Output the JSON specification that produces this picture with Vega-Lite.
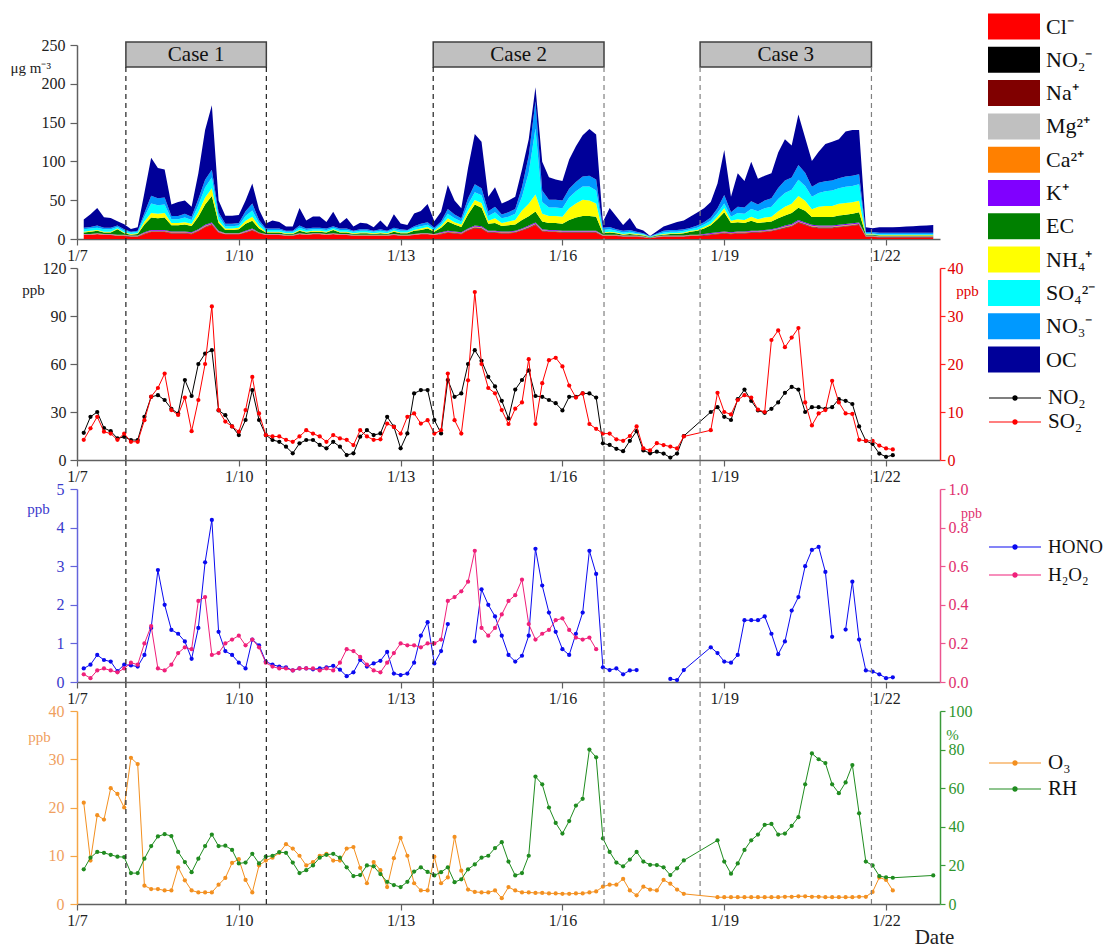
{
"$schema":"https://vega.github.io/schema/vega-lite/v6.json",
"background":"white",
"padding":{"left":10,"top":10,"right":0,"bottom":0},
"bounds":"flush",
"spacing":29,
"config":{"font":"Liberation Serif","view":{"stroke":null},
"axis":{"grid":false,"labelFontSize":16,"titleFontWeight":"normal","labelColor":"#222","titleColor":"#222","domainColor":"#606060","tickColor":"#606060","domainWidth":1.5,"tickWidth":1.2,"labelOverlap":false},
"legend":{"labelFont":"Liberation Serif","labelFontSize":22,"labelColor":"#111","padding":0,"rowPadding":0,"labelOffset":6}},
"resolve":{"scale":{"color":"independent","x":"independent"},"legend":{"color":"independent"}},
"data":{"format":{"parse":{"t":"date:'%m/%d %H'"}},"values":[
{"t":"1/7 03","N":17,"S":4.2,"H":0.35,"P":0.04,"O":21,"R":18},
{"t":"1/7 06","N":27,"S":6.6,"H":0.45,"P":0.02,"O":9,"R":24},
{"t":"1/7 09","N":30,"S":9,"H":0.7,"P":0.06,"O":18.4,"R":27},
{"t":"1/7 12","N":20,"S":5.9,"H":0.57,"P":0.07,"O":17.5,"R":26.5},
{"t":"1/7 15","N":18,"S":5.5,"H":0.53,"P":0.06,"O":24,"R":25.5},
{"t":"1/7 18","N":13.5,"S":4.2,"H":0.28,"P":0.05,"O":22.8,"R":24.5},
{"t":"1/7 21","N":14.5,"S":5.5,"H":0.45,"P":0.07,"O":20,"R":24.3},
{"t":"1/8 00","N":12.5,"S":3.8,"H":0.43,"P":0.1,"O":30.3,"R":16},
{"t":"1/8 03","N":12.5,"S":3.8,"H":0.4,"P":0.09,"O":29,"R":16},
{"t":"1/8 06","N":27,"S":8.3,"H":0.7,"P":0.2,"O":3.8,"R":23.5},
{"t":"1/8 09","N":39.5,"S":13.2,"H":1.4,"P":0.29,"O":3.1,"R":30},
{"t":"1/8 12","N":40.5,"S":15,"H":2.9,"P":0.07,"O":3.1,"R":35},
{"t":"1/8 15","N":37.5,"S":18,"H":2,"P":0.06,"O":2.8,"R":36.2},
{"t":"1/8 18","N":32,"S":10.4,"H":1.35,"P":0.09,"O":2.8,"R":35.2},
{"t":"1/8 21","N":29,"S":9.4,"H":1.25,"P":0.15,"O":7.6,"R":27},
{"t":"1/9 00","N":50,"S":13,"H":1.05,"P":0.18,"O":4.9,"R":21.7},
{"t":"1/9 03","N":40,"S":6,"H":0.6,"P":0.17,"O":2.8,"R":16.5},
{"t":"1/9 06","N":60,"S":12.5,"H":1.4,"P":0.42,"O":2.4,"R":23.5},
{"t":"1/9 09","N":66.5,"S":20,"H":3.1,"P":0.44,"O":2.4,"R":30},
{"t":"1/9 12","N":68.6,"S":32,"H":4.2,"P":0.14,"O":2.4,"R":36},
{"t":"1/9 15","N":31,"S":10.4,"H":1.3,"P":0.15,"O":4,"R":30},
{"t":"1/9 18","N":28,"S":8,"H":0.8,"P":0.2,"O":5.4,"R":30.2},
{"t":"1/9 21","N":21,"S":7,"H":0.7,"P":0.22,"O":8.5,"R":28},
{"t":"1/10 00","N":15.6,"S":5.9,"H":0.5,"P":0.24,"O":9.3,"R":21},
{"t":"1/10 03","N":25,"S":10.4,"H":0.35,"P":0.19,"O":5,"R":21.5},
{"t":"1/10 06","N":43.7,"S":17.3,"H":1.1,"P":0.22,"O":2.4,"R":26},
{"t":"1/10 09","N":25,"S":9.7,"H":0.95,"P":0.18,"O":8,"R":21},
{"t":"1/10 12","N":15.6,"S":5.2,"H":0.53,"P":0.1,"O":9,"R":24.5},
{"t":"1/10 15","N":12.5,"S":4.9,"H":0.45,"P":0.08,"O":9.6,"R":25},
{"t":"1/10 18","N":11.4,"S":4.9,"H":0.4,"P":0.07,"O":10.6,"R":26.9},
{"t":"1/10 21","N":8.3,"S":4.2,"H":0.38,"P":0.07,"O":12.4,"R":26.5},
{"t":"1/11 00","N":4.2,"S":3.8,"H":0.3,"P":0.06,"O":11.5,"R":21.5},
{"t":"1/11 03","N":10.4,"S":4.9,"H":0.35,"P":0.07,"O":10,"R":16},
{"t":"1/11 06","N":12.5,"S":6.2,"H":0.35,"P":0.07,"O":8,"R":17.5},
{"t":"1/11 09","N":12.5,"S":5.5,"H":0.33,"P":0.07,"O":8.7,"R":20},
{"t":"1/11 12","N":9.4,"S":4.9,"H":0.35,"P":0.06,"O":10,"R":24},
{"t":"1/11 15","N":7.3,"S":3.8,"H":0.38,"P":0.07,"O":10.4,"R":25.5},
{"t":"1/11 18","N":11.4,"S":5.2,"H":0.42,"P":0.06,"O":9,"R":26},
{"t":"1/11 21","N":8.3,"S":4.5,"H":0.32,"P":0.1,"O":9,"R":24},
{"t":"1/12 00","N":3.1,"S":4.2,"H":0.15,"P":0.17,"O":11.5,"R":19},
{"t":"1/12 03","N":4.2,"S":3.1,"H":0.25,"P":0.16,"O":11.8,"R":14.5},
{"t":"1/12 06","N":14.6,"S":6.2,"H":0.57,"P":0.13,"O":7.5,"R":15},
{"t":"1/12 09","N":18.7,"S":4.9,"H":0.4,"P":0.09,"O":4.3,"R":20},
{"t":"1/12 12","N":15.6,"S":4.2,"H":0.48,"P":0.06,"O":8.7,"R":19.5},
{"t":"1/12 15","N":16.6,"S":4.3,"H":0.55,"P":0.05,"O":7,"R":15.5},
{"t":"1/12 18","N":27,"S":7.6,"H":0.78,"P":0.1,"O":3.5,"R":11.5},
{"t":"1/12 21","N":20.8,"S":6.9,"H":0.22,"P":0.15,"O":9.5,"R":9.8},
{"t":"1/13 00","N":7.3,"S":5.5,"H":0.18,"P":0.2,"O":13.7,"R":8.8},
{"t":"1/13 03","N":16.6,"S":9,"H":0.22,"P":0.19,"O":10,"R":11.5},
{"t":"1/13 06","N":41.6,"S":9.7,"H":0.5,"P":0.19,"O":4.3,"R":16.8},
{"t":"1/13 09","N":43.7,"S":7.6,"H":1.2,"P":0.18,"O":2.8,"R":19},
{"t":"1/13 12","N":43.7,"S":8.3,"H":1.55,"P":0.2,"O":2.8,"R":16.6},
{"t":"1/13 15","N":25,"S":5.5,"H":0.48,"P":0.2,"O":9.8,"R":14.8},
{"t":"1/13 18","N":16.6,"S":6.2,"H":0.8,"P":0.22,"O":4.3,"R":16.5},
{"t":"1/13 21","N":50,"S":18,"H":1.5,"P":0.42,"O":5.5,"R":19},
{"t":"1/14 00","N":39.5,"S":8.3,"H":null,"P":0.44,"O":13.9,"R":11.3},
{"t":"1/14 03","N":41.6,"S":5.5,"H":null,"P":0.47,"O":6.9,"R":12.8},
{"t":"1/14 06","N":60,"S":16.6,"H":null,"P":0.52,"O":3,"R":18},
{"t":"1/14 09","N":68.6,"S":35,"H":1.05,"P":0.68,"O":2.5,"R":20.5},
{"t":"1/14 12","N":62,"S":20,"H":2.4,"P":0.28,"O":2.4,"R":24},
{"t":"1/14 15","N":52,"S":15,"H":2,"P":0.24,"O":2.4,"R":25},
{"t":"1/14 18","N":46,"S":13.9,"H":1.7,"P":0.28,"O":2.8,"R":29},
{"t":"1/14 21","N":37,"S":10.4,"H":1.2,"P":0.35,"O":1.2,"R":32},
{"t":"1/15 00","N":26,"S":7.5,"H":0.7,"P":0.42,"O":3.5,"R":22},
{"t":"1/15 03","N":44,"S":10.7,"H":0.53,"P":0.45,"O":2.8,"R":14.8},
{"t":"1/15 06","N":50,"S":12,"H":0.68,"P":0.53,"O":2.4,"R":16},
{"t":"1/15 09","N":56,"S":21,"H":1.2,"P":0.3,"O":2.4,"R":25},
{"t":"1/15 12","N":40,"S":7.5,"H":3.45,"P":0.22,"O":2.3,"R":66},
{"t":"1/15 15","N":39.5,"S":16,"H":2.5,"P":0.25,"O":2.3,"R":62},
{"t":"1/15 18","N":37.5,"S":20.8,"H":1.8,"P":0.27,"O":2.2,"R":50},
{"t":"1/15 21","N":35.5,"S":21.3,"H":1.3,"P":0.32,"O":2.2,"R":42},
{"t":"1/16 00","N":31,"S":19.5,"H":0.85,"P":0.33,"O":2.1,"R":36.5},
{"t":"1/16 03","N":39.5,"S":15.5,"H":0.7,"P":0.27,"O":2.1,"R":43},
{"t":"1/16 06","N":39.5,"S":13,"H":1.25,"P":0.23,"O":2.2,"R":51},
{"t":"1/16 09","N":41.6,"S":13.9,"H":1.8,"P":0.22,"O":2.2,"R":54.5},
{"t":"1/16 12","N":41.6,"S":7.5,"H":3.4,"P":0.23,"O":2.4,"R":80},
{"t":"1/16 15","N":39,"S":6.5,"H":2.8,"P":0.17,"O":2.6,"R":76},
{"t":"1/16 18","N":10.4,"S":5.5,"H":0.38,"O":3.6,"R":34},
{"t":"1/16 21","N":9.4,"S":5.5,"H":0.31,"O":4,"R":27},
{"t":"1/17 00","N":7,"S":4.3,"H":0.35,"O":4,"R":21.5},
{"t":"1/17 03","N":5.5,"S":4,"H":0.2,"O":5.2,"R":19.5},
{"t":"1/17 06","N":12,"S":5,"H":0.3,"O":2.8,"R":23},
{"t":"1/17 09","N":18,"S":7,"H":0.31,"O":1.8,"R":27},
{"t":"1/17 12","N":6,"S":2.4,"H":null,"O":3.6,"R":22},
{"t":"1/17 15","N":4.2,"S":2,"H":null,"O":3,"R":20.3},
{"t":"1/17 18","N":5.2,"S":3.5,"H":null,"O":2.8,"R":20.2},
{"t":"1/17 21","N":4,"S":3.1,"H":null,"O":5,"R":19},
{"t":"1/18 00","N":1.5,"S":2.8,"H":0.08,"O":4.2,"R":15},
{"t":"1/18 03","N":4,"S":2.4,"H":0.05,"O":3,"R":18.5},
{"t":"1/18 06","N":15,"S":4.9,"H":0.31,"O":2.1,"R":22.6},
{"t":"1/18 18","N":30,"S":6.2,"H":0.9},
{"t":"1/18 21","N":33,"S":14,"H":0.75,"O":1.4,"R":33},
{"t":"1/19 00","N":27,"S":10,"H":0.53,"O":1.4,"R":22},
{"t":"1/19 03","N":25,"S":9.5,"H":0.5,"O":1.4,"R":15.7},
{"t":"1/19 06","N":38,"S":12.5,"H":0.7,"O":1.4,"R":21},
{"t":"1/19 09","N":44,"S":13.5,"H":1.6,"O":1.4,"R":28},
{"t":"1/19 12","N":37,"S":13,"H":1.6,"O":1.4,"R":33},
{"t":"1/19 15","N":31,"S":10.5,"H":1.6,"O":1.4,"R":36},
{"t":"1/19 18","N":29.5,"S":10,"H":1.7,"O":1.4,"R":41},
{"t":"1/19 21","N":32,"S":25,"H":1.25,"O":1.4,"R":41.5},
{"t":"1/20 00","N":36,"S":27,"H":0.72,"O":1.4,"R":36},
{"t":"1/20 03","N":42,"S":23.5,"H":1.05,"O":1.5,"R":36.5},
{"t":"1/20 06","N":45.7,"S":25.5,"H":1.85,"O":1.5,"R":40.5},
{"t":"1/20 09","N":44,"S":27.5,"H":2.2,"O":1.6,"R":45},
{"t":"1/20 12","N":30,"S":12,"H":3,"O":1.6,"R":62},
{"t":"1/20 15","N":33,"S":7.2,"H":3.42,"O":1.5,"R":78},
{"t":"1/20 18","N":33,"S":9.7,"H":3.5,"O":1.5,"R":75},
{"t":"1/20 21","N":32,"S":10.4,"H":2.85,"O":1.4,"R":73},
{"t":"1/21 00","N":33,"S":16.5,"H":1.17,"O":1.4,"R":62},
{"t":"1/21 03","N":38,"S":12,"H":null,"O":1.4,"R":57.4},
{"t":"1/21 06","N":37,"S":9.7,"H":1.36,"O":1.4,"R":63},
{"t":"1/21 09","N":35,"S":9.6,"H":2.6,"O":1.4,"R":72},
{"t":"1/21 12","N":21,"S":4.2,"H":1.1,"O":1.5,"R":47},
{"t":"1/21 15","N":12,"S":4,"H":0.3,"O":1.5,"R":22},
{"t":"1/21 18","N":10,"S":4,"H":0.27,"O":2.5,"R":20},
{"t":"1/21 21","N":4,"S":3,"H":0.2,"O":5.5,"R":14.5},
{"t":"1/22 00","N":2,"S":2.4,"H":0.1,"O":5,"R":13.8},
{"t":"1/22 03","N":3,"S":2.2,"H":0.12,"O":2.8,"R":13.6},
{"t":"1/22 21","R":14.8}
]},
"vconcat":[
{"width":863,"height":194,
"layer":[
{"data":{"format":{"parse":{"t":"date:'%m/%d %H'"}},"values":[
{"t":"1/7 03","Cl":5,"N2":0.2,"Na":0.4,"Mg":0.2,"Ca":0.3,"K":0.4,"EC":2,"NH":1,"SO":3,"NO":2,"OC":10.5},
{"t":"1/7 06","Cl":5,"N2":0.2,"Na":0.4,"Mg":0.2,"Ca":0.3,"K":0.4,"EC":3,"NH":1,"SO":3,"NO":2,"OC":16.5},
{"t":"1/7 09","Cl":6,"N2":0.2,"Na":0.4,"Mg":0.2,"Ca":0.3,"K":0.4,"EC":3,"NH":1,"SO":3,"NO":3,"OC":22.5},
{"t":"1/7 12","Cl":5,"N2":0.2,"Na":0.4,"Mg":0.2,"Ca":0.3,"K":0.4,"EC":2,"NH":1,"SO":3,"NO":2,"OC":13.5},
{"t":"1/7 15","Cl":5,"N2":0.2,"Na":0.4,"Mg":0.2,"Ca":0.3,"K":0.4,"EC":2,"NH":1,"SO":3,"NO":2,"OC":12.5},
{"t":"1/7 18","Cl":4,"N2":0.2,"Na":0.4,"Mg":0.2,"Ca":0.3,"K":0.4,"EC":7,"NH":1,"SO":2,"NO":2,"OC":5.5},
{"t":"1/7 21","Cl":4,"N2":0.2,"Na":0.4,"Mg":0.2,"Ca":0.3,"K":0.4,"EC":2,"NH":1,"SO":2,"NO":2,"OC":6.5},
{"t":"1/8 00","Cl":3,"N2":0.2,"Na":0.4,"Mg":0.2,"Ca":0.3,"K":0.4,"EC":1,"NH":1,"SO":2,"NO":1,"OC":3.5},
{"t":"1/8 03","Cl":3,"N2":0.2,"Na":0.4,"Mg":0.2,"Ca":0.3,"K":0.4,"EC":2,"NH":1,"SO":2,"NO":1,"OC":4.5},
{"t":"1/8 06","Cl":6,"N2":0.4,"Na":0.6,"Mg":0.2,"Ca":0.4,"K":1,"EC":10,"NH":4,"SO":6,"NO":5,"OC":26},
{"t":"1/8 09","Cl":9,"N2":0.4,"Na":0.6,"Mg":0.2,"Ca":0.4,"K":1,"EC":16,"NH":6,"SO":12,"NO":10,"OC":49},
{"t":"1/8 12","Cl":9,"N2":0.4,"Na":0.6,"Mg":0.2,"Ca":0.4,"K":1,"EC":15,"NH":6,"SO":11,"NO":9,"OC":39},
{"t":"1/8 15","Cl":9,"N2":0.4,"Na":0.6,"Mg":0.2,"Ca":0.4,"K":1,"EC":16,"NH":6,"SO":11,"NO":9,"OC":36},
{"t":"1/8 18","Cl":7,"N2":0.4,"Na":0.6,"Mg":0.2,"Ca":0.4,"K":1,"EC":8,"NH":3,"SO":5,"NO":4,"OC":15},
{"t":"1/8 21","Cl":7,"N2":0.4,"Na":0.6,"Mg":0.2,"Ca":0.4,"K":1,"EC":8,"NH":3,"SO":5,"NO":4,"OC":18},
{"t":"1/9 00","Cl":7,"N2":0.4,"Na":0.6,"Mg":0.2,"Ca":0.4,"K":1,"EC":9,"NH":3,"SO":6,"NO":5,"OC":17},
{"t":"1/9 03","Cl":6,"N2":0.4,"Na":0.6,"Mg":0.2,"Ca":0.4,"K":1,"EC":8,"NH":3,"SO":5,"NO":4,"OC":13},
{"t":"1/9 06","Cl":10,"N2":0.4,"Na":0.6,"Mg":0.2,"Ca":0.4,"K":1,"EC":16,"NH":6,"SO":9,"NO":8,"OC":33},
{"t":"1/9 09","Cl":15,"N2":0.5,"Na":0.7,"Mg":0.3,"Ca":0.5,"K":1.4,"EC":26,"NH":9,"SO":13,"NO":10,"OC":64},
{"t":"1/9 12","Cl":18,"N2":0.5,"Na":0.7,"Mg":0.3,"Ca":0.5,"K":1.4,"EC":34,"NH":10,"SO":14,"NO":10,"OC":83},
{"t":"1/9 15","Cl":8,"N2":0.4,"Na":0.6,"Mg":0.2,"Ca":0.4,"K":1,"EC":10,"NH":3,"SO":6,"NO":5,"OC":15},
{"t":"1/9 18","Cl":6,"N2":0.2,"Na":0.4,"Mg":0.2,"Ca":0.3,"K":0.4,"EC":4,"NH":2,"SO":3,"NO":3,"OC":10.5},
{"t":"1/9 21","Cl":6,"N2":0.2,"Na":0.4,"Mg":0.2,"Ca":0.3,"K":0.4,"EC":4,"NH":2,"SO":3,"NO":3,"OC":10.5},
{"t":"1/10 00","Cl":6,"N2":0.2,"Na":0.4,"Mg":0.2,"Ca":0.3,"K":0.4,"EC":5,"NH":2,"SO":3,"NO":3,"OC":10.5},
{"t":"1/10 03","Cl":8,"N2":0.4,"Na":0.6,"Mg":0.2,"Ca":0.4,"K":1,"EC":9,"NH":4,"SO":6,"NO":6,"OC":14},
{"t":"1/10 06","Cl":11,"N2":0.4,"Na":0.6,"Mg":0.2,"Ca":0.4,"K":1,"EC":10,"NH":5,"SO":8,"NO":9,"OC":26},
{"t":"1/10 09","Cl":7,"N2":0.2,"Na":0.4,"Mg":0.2,"Ca":0.3,"K":0.4,"EC":5,"NH":3,"SO":4,"NO":4,"OC":13.5},
{"t":"1/10 12","Cl":5,"N2":0.2,"Na":0.4,"Mg":0.2,"Ca":0.3,"K":0.4,"EC":2,"NH":1,"SO":2,"NO":2,"OC":6.5},
{"t":"1/10 15","Cl":5,"N2":0.2,"Na":0.4,"Mg":0.2,"Ca":0.3,"K":0.4,"EC":2,"NH":1,"SO":2,"NO":2,"OC":10.5},
{"t":"1/10 18","Cl":5,"N2":0.2,"Na":0.4,"Mg":0.2,"Ca":0.3,"K":0.4,"EC":2,"NH":1,"SO":2,"NO":2,"OC":8.5},
{"t":"1/10 21","Cl":4,"N2":0.2,"Na":0.4,"Mg":0.2,"Ca":0.3,"K":0.4,"EC":1,"NH":1,"SO":2,"NO":1,"OC":5.5},
{"t":"1/11 00","Cl":4,"N2":0.2,"Na":0.4,"Mg":0.2,"Ca":0.3,"K":0.4,"EC":1,"NH":1,"SO":2,"NO":1,"OC":5.5},
{"t":"1/11 03","Cl":6,"N2":0.2,"Na":0.4,"Mg":0.2,"Ca":0.3,"K":0.4,"EC":3,"NH":1,"SO":3,"NO":3,"OC":22.5},
{"t":"1/11 06","Cl":5,"N2":0.2,"Na":0.4,"Mg":0.2,"Ca":0.3,"K":0.4,"EC":2,"NH":1,"SO":2,"NO":2,"OC":10.5},
{"t":"1/11 09","Cl":6,"N2":0.2,"Na":0.4,"Mg":0.2,"Ca":0.3,"K":0.4,"EC":2,"NH":1,"SO":2,"NO":2,"OC":14.5},
{"t":"1/11 12","Cl":6,"N2":0.2,"Na":0.4,"Mg":0.2,"Ca":0.3,"K":0.4,"EC":2,"NH":1,"SO":2,"NO":2,"OC":14.5},
{"t":"1/11 15","Cl":5,"N2":0.2,"Na":0.4,"Mg":0.2,"Ca":0.3,"K":0.4,"EC":2,"NH":1,"SO":2,"NO":2,"OC":8.5},
{"t":"1/11 18","Cl":6,"N2":0.2,"Na":0.4,"Mg":0.2,"Ca":0.3,"K":0.4,"EC":4,"NH":1,"SO":2,"NO":2,"OC":18.5},
{"t":"1/11 21","Cl":5,"N2":0.2,"Na":0.4,"Mg":0.2,"Ca":0.3,"K":0.4,"EC":2,"NH":1,"SO":2,"NO":2,"OC":6.5},
{"t":"1/12 00","Cl":5,"N2":0.2,"Na":0.4,"Mg":0.2,"Ca":0.3,"K":0.4,"EC":2,"NH":1,"SO":2,"NO":2,"OC":13.5},
{"t":"1/12 03","Cl":4,"N2":0.2,"Na":0.4,"Mg":0.2,"Ca":0.3,"K":0.4,"EC":1,"NH":1,"SO":2,"NO":1,"OC":5.5},
{"t":"1/12 06","Cl":4,"N2":0.2,"Na":0.4,"Mg":0.2,"Ca":0.3,"K":0.4,"EC":2,"NH":1,"SO":2,"NO":2,"OC":8.5},
{"t":"1/12 09","Cl":4,"N2":0.2,"Na":0.4,"Mg":0.2,"Ca":0.3,"K":0.4,"EC":2,"NH":1,"SO":2,"NO":2,"OC":7.5},
{"t":"1/12 12","Cl":4,"N2":0.2,"Na":0.4,"Mg":0.2,"Ca":0.3,"K":0.4,"EC":1,"NH":1,"SO":2,"NO":1,"OC":4.5},
{"t":"1/12 15","Cl":4,"N2":0.2,"Na":0.4,"Mg":0.2,"Ca":0.3,"K":0.4,"EC":2,"NH":1,"SO":2,"NO":2,"OC":11.5},
{"t":"1/12 18","Cl":4,"N2":0.2,"Na":0.4,"Mg":0.2,"Ca":0.3,"K":0.4,"EC":1,"NH":1,"SO":2,"NO":1,"OC":4.5},
{"t":"1/12 21","Cl":5,"N2":0.2,"Na":0.4,"Mg":0.2,"Ca":0.3,"K":0.4,"EC":3,"NH":1,"SO":2,"NO":2,"OC":17.5},
{"t":"1/13 00","Cl":4,"N2":0.2,"Na":0.4,"Mg":0.2,"Ca":0.3,"K":0.4,"EC":2,"NH":1,"SO":2,"NO":2,"OC":7.5},
{"t":"1/13 03","Cl":4,"N2":0.2,"Na":0.4,"Mg":0.2,"Ca":0.3,"K":0.4,"EC":2,"NH":1,"SO":2,"NO":1,"OC":6.5},
{"t":"1/13 06","Cl":5,"N2":0.2,"Na":0.4,"Mg":0.2,"Ca":0.3,"K":0.4,"EC":4,"NH":1,"SO":3,"NO":2,"OC":16.5},
{"t":"1/13 09","Cl":6,"N2":0.2,"Na":0.4,"Mg":0.2,"Ca":0.3,"K":0.4,"EC":4,"NH":2,"SO":3,"NO":3,"OC":16.5},
{"t":"1/13 12","Cl":6,"N2":0.2,"Na":0.4,"Mg":0.2,"Ca":0.3,"K":0.4,"EC":6,"NH":2,"SO":3,"NO":3,"OC":23.5},
{"t":"1/13 15","Cl":5,"N2":0.2,"Na":0.4,"Mg":0.2,"Ca":0.3,"K":0.4,"EC":3,"NH":1,"SO":2,"NO":2,"OC":8.5},
{"t":"1/13 18","Cl":6,"N2":0.4,"Na":0.6,"Mg":0.2,"Ca":0.4,"K":1,"EC":6,"NH":2,"SO":3,"NO":3,"OC":12.4},
{"t":"1/13 21","Cl":8,"N2":0.4,"Na":0.6,"Mg":0.2,"Ca":0.4,"K":1,"EC":12,"NH":4,"SO":6,"NO":6,"OC":31},
{"t":"1/14 00","Cl":7,"N2":0.4,"Na":0.6,"Mg":0.2,"Ca":0.4,"K":1,"EC":9,"NH":3,"SO":5,"NO":5,"OC":18},
{"t":"1/14 03","Cl":6,"N2":0.4,"Na":0.6,"Mg":0.2,"Ca":0.4,"K":1,"EC":7,"NH":3,"SO":4,"NO":4,"OC":13},
{"t":"1/14 06","Cl":11,"N2":0.4,"Na":0.6,"Mg":0.2,"Ca":0.4,"K":1,"EC":18,"NH":5,"SO":8,"NO":8,"OC":39},
{"t":"1/14 09","Cl":14,"N2":0.5,"Na":0.7,"Mg":0.3,"Ca":0.5,"K":1.4,"EC":27,"NH":6,"SO":10,"NO":10,"OC":65},
{"t":"1/14 12","Cl":13,"N2":0.5,"Na":0.7,"Mg":0.3,"Ca":0.5,"K":1.4,"EC":24,"NH":6,"SO":10,"NO":9,"OC":60},
{"t":"1/14 15","Cl":8,"N2":0.4,"Na":0.6,"Mg":0.2,"Ca":0.4,"K":1,"EC":9,"NH":4,"SO":6,"NO":6,"OC":19},
{"t":"1/14 18","Cl":8,"N2":0.4,"Na":0.6,"Mg":0.2,"Ca":0.4,"K":1,"EC":10,"NH":6,"SO":8,"NO":7,"OC":25},
{"t":"1/14 21","Cl":7,"N2":0.4,"Na":0.6,"Mg":0.2,"Ca":0.4,"K":1,"EC":7,"NH":4,"SO":6,"NO":5,"OC":14},
{"t":"1/15 00","Cl":7,"N2":0.4,"Na":0.6,"Mg":0.2,"Ca":0.4,"K":1,"EC":8,"NH":5,"SO":6,"NO":6,"OC":15},
{"t":"1/15 03","Cl":8,"N2":0.4,"Na":0.6,"Mg":0.2,"Ca":0.4,"K":1,"EC":8,"NH":6,"SO":8,"NO":6,"OC":16},
{"t":"1/15 06","Cl":11,"N2":0.4,"Na":0.6,"Mg":0.2,"Ca":0.4,"K":1,"EC":11,"NH":12,"SO":18,"NO":12,"OC":23},
{"t":"1/15 09","Cl":14,"N2":0.5,"Na":0.7,"Mg":0.3,"Ca":0.5,"K":1.4,"EC":12,"NH":16,"SO":40,"NO":22,"OC":21},
{"t":"1/15 12","Cl":18,"N2":0.5,"Na":0.7,"Mg":0.3,"Ca":0.5,"K":1.4,"EC":14,"NH":22,"SO":85,"NO":35,"OC":18},
{"t":"1/15 15","Cl":10,"N2":0.4,"Na":0.6,"Mg":0.2,"Ca":0.4,"K":1,"EC":10,"NH":10,"SO":15,"NO":15,"OC":37},
{"t":"1/15 18","Cl":9,"N2":0.4,"Na":0.6,"Mg":0.2,"Ca":0.4,"K":1,"EC":9,"NH":9,"SO":11,"NO":10,"OC":29},
{"t":"1/15 21","Cl":9,"N2":0.4,"Na":0.6,"Mg":0.2,"Ca":0.4,"K":1,"EC":9,"NH":9,"SO":11,"NO":10,"OC":26},
{"t":"1/16 00","Cl":8,"N2":0.4,"Na":0.6,"Mg":0.2,"Ca":0.4,"K":1,"EC":9,"NH":9,"SO":11,"NO":10,"OC":25},
{"t":"1/16 03","Cl":8,"N2":0.4,"Na":0.6,"Mg":0.2,"Ca":0.4,"K":1,"EC":14,"NH":15,"SO":14,"NO":11,"OC":38},
{"t":"1/16 06","Cl":8,"N2":0.4,"Na":0.6,"Mg":0.2,"Ca":0.4,"K":1,"EC":17,"NH":18,"SO":16,"NO":12,"OC":46},
{"t":"1/16 09","Cl":8,"N2":0.4,"Na":0.6,"Mg":0.2,"Ca":0.4,"K":1,"EC":19,"NH":21,"SO":17,"NO":13,"OC":53},
{"t":"1/16 12","Cl":8,"N2":0.4,"Na":0.6,"Mg":0.2,"Ca":0.4,"K":1,"EC":19,"NH":20,"SO":18,"NO":14,"OC":60},
{"t":"1/16 15","Cl":8,"N2":0.4,"Na":0.6,"Mg":0.2,"Ca":0.4,"K":1,"EC":18,"NH":17,"SO":17,"NO":14,"OC":58},
{"t":"1/16 18","Cl":4,"N2":0.2,"Na":0.4,"Mg":0.2,"Ca":0.3,"K":0.4,"EC":2,"NH":1,"SO":3,"NO":3,"OC":7.5},
{"t":"1/16 21","Cl":4,"N2":0.2,"Na":0.4,"Mg":0.2,"Ca":0.3,"K":0.4,"EC":3,"NH":1,"SO":3,"NO":3,"OC":24.5},
{"t":"1/17 00","Cl":4,"N2":0.2,"Na":0.4,"Mg":0.2,"Ca":0.3,"K":0.4,"EC":2,"NH":1,"SO":2,"NO":2,"OC":16.5},
{"t":"1/17 03","Cl":3,"N2":0.2,"Na":0.4,"Mg":0.2,"Ca":0.3,"K":0.4,"EC":1,"NH":1,"SO":2,"NO":2,"OC":7.5},
{"t":"1/17 06","Cl":3,"N2":0.2,"Na":0.4,"Mg":0.2,"Ca":0.3,"K":0.4,"EC":2,"NH":1,"SO":2,"NO":2,"OC":15.5},
{"t":"1/17 09","Cl":3,"N2":0.2,"Na":0.4,"Mg":0.2,"Ca":0.3,"K":0.4,"EC":1,"NH":1,"SO":1,"NO":2,"OC":4.5},
{"t":"1/17 12","Cl":2,"N2":0.2,"Na":0.4,"Mg":0.2,"Ca":0.3,"K":0.4,"EC":1,"NH":1,"SO":1,"NO":1,"OC":3.5},
{"t":"1/17 15","Cl":1,"N2":0.1,"Na":0.2,"Mg":0.1,"Ca":0.1,"K":0.2,"EC":0.5,"NH":0.2,"SO":0.5,"NO":0.5,"OC":0.6},
{"t":"1/17 18","Cl":2,"N2":0.2,"Na":0.4,"Mg":0.2,"Ca":0.3,"K":0.4,"EC":1,"NH":0.5,"SO":1,"NO":1,"OC":3},
{"t":"1/17 21","Cl":3,"N2":0.2,"Na":0.4,"Mg":0.2,"Ca":0.3,"K":0.4,"EC":1,"NH":1,"SO":2,"NO":2,"OC":5.5},
{"t":"1/18 00","Cl":3,"N2":0.2,"Na":0.4,"Mg":0.2,"Ca":0.3,"K":0.4,"EC":2,"NH":1,"SO":2,"NO":2,"OC":7.5},
{"t":"1/18 03","Cl":3,"N2":0.2,"Na":0.4,"Mg":0.2,"Ca":0.3,"K":0.4,"EC":2,"NH":1,"SO":2,"NO":2,"OC":10.5},
{"t":"1/18 06","Cl":3,"N2":0.2,"Na":0.4,"Mg":0.2,"Ca":0.3,"K":0.4,"EC":3,"NH":1,"SO":2,"NO":2,"OC":11.5},
{"t":"1/18 09","Cl":4,"N2":0.2,"Na":0.4,"Mg":0.2,"Ca":0.3,"K":0.4,"EC":4,"NH":1,"SO":2,"NO":2,"OC":14.5},
{"t":"1/18 12","Cl":4,"N2":0.2,"Na":0.4,"Mg":0.2,"Ca":0.3,"K":0.4,"EC":5,"NH":1,"SO":3,"NO":3,"OC":16.5},
{"t":"1/18 15","Cl":4,"N2":0.4,"Na":0.6,"Mg":0.2,"Ca":0.4,"K":1,"EC":7,"NH":2,"SO":3,"NO":3,"OC":18},
{"t":"1/18 18","Cl":5,"N2":0.4,"Na":0.6,"Mg":0.2,"Ca":0.4,"K":1,"EC":10,"NH":2,"SO":4,"NO":4,"OC":20},
{"t":"1/18 21","Cl":6,"N2":0.4,"Na":0.6,"Mg":0.2,"Ca":0.4,"K":1,"EC":17,"NH":3,"SO":5,"NO":6,"OC":32},
{"t":"1/19 00","Cl":7,"N2":0.4,"Na":0.6,"Mg":0.2,"Ca":0.4,"K":1,"EC":25,"NH":5,"SO":6,"NO":11,"OC":58},
{"t":"1/19 03","Cl":6,"N2":0.4,"Na":0.6,"Mg":0.2,"Ca":0.4,"K":1,"EC":12,"NH":3,"SO":5,"NO":6,"OC":20},
{"t":"1/19 06","Cl":7,"N2":0.4,"Na":0.6,"Mg":0.2,"Ca":0.4,"K":1,"EC":12,"NH":4,"SO":8,"NO":8,"OC":43},
{"t":"1/19 09","Cl":7,"N2":0.4,"Na":0.6,"Mg":0.2,"Ca":0.4,"K":1,"EC":11,"NH":4,"SO":8,"NO":8,"OC":34},
{"t":"1/19 12","Cl":8,"N2":0.4,"Na":0.6,"Mg":0.2,"Ca":0.4,"K":1,"EC":13,"NH":5,"SO":10,"NO":10,"OC":51},
{"t":"1/19 15","Cl":8,"N2":0.4,"Na":0.6,"Mg":0.2,"Ca":0.4,"K":1,"EC":10,"NH":5,"SO":10,"NO":9,"OC":33},
{"t":"1/19 18","Cl":9,"N2":0.4,"Na":0.6,"Mg":0.2,"Ca":0.4,"K":1,"EC":10,"NH":6,"SO":12,"NO":10,"OC":32},
{"t":"1/19 21","Cl":10,"N2":0.4,"Na":0.6,"Mg":0.2,"Ca":0.4,"K":1,"EC":10,"NH":6,"SO":13,"NO":11,"OC":32},
{"t":"1/20 00","Cl":12,"N2":0.4,"Na":0.6,"Mg":0.2,"Ca":0.4,"K":1,"EC":12,"NH":9,"SO":16,"NO":14,"OC":46},
{"t":"1/20 03","Cl":14,"N2":0.5,"Na":0.7,"Mg":0.3,"Ca":0.5,"K":1.4,"EC":13,"NH":11,"SO":18,"NO":16,"OC":53},
{"t":"1/20 06","Cl":16,"N2":0.5,"Na":0.7,"Mg":0.3,"Ca":0.5,"K":1.4,"EC":14,"NH":12,"SO":18,"NO":16,"OC":41},
{"t":"1/20 09","Cl":21,"N2":0.5,"Na":0.7,"Mg":0.3,"Ca":0.5,"K":1.4,"EC":16,"NH":15,"SO":21,"NO":19,"OC":65},
{"t":"1/20 12","Cl":18,"N2":0.5,"Na":0.7,"Mg":0.3,"Ca":0.5,"K":1.4,"EC":15,"NH":13,"SO":19,"NO":17,"OC":45},
{"t":"1/20 15","Cl":15,"N2":0.5,"Na":0.7,"Mg":0.3,"Ca":0.5,"K":1.4,"EC":10,"NH":10,"SO":16,"NO":13,"OC":33},
{"t":"1/20 18","Cl":14,"N2":0.5,"Na":0.7,"Mg":0.3,"Ca":0.5,"K":1.4,"EC":11,"NH":13,"SO":18,"NO":13,"OC":40},
{"t":"1/20 21","Cl":14,"N2":0.5,"Na":0.7,"Mg":0.3,"Ca":0.5,"K":1.4,"EC":11,"NH":14,"SO":19,"NO":13,"OC":48},
{"t":"1/21 00","Cl":14,"N2":0.5,"Na":0.7,"Mg":0.3,"Ca":0.5,"K":1.4,"EC":11,"NH":14,"SO":20,"NO":13,"OC":50},
{"t":"1/21 03","Cl":15,"N2":0.5,"Na":0.7,"Mg":0.3,"Ca":0.5,"K":1.4,"EC":12,"NH":15,"SO":20,"NO":13,"OC":50},
{"t":"1/21 06","Cl":16,"N2":0.5,"Na":0.7,"Mg":0.3,"Ca":0.5,"K":1.4,"EC":12,"NH":15,"SO":21,"NO":13,"OC":58},
{"t":"1/21 09","Cl":17,"N2":0.5,"Na":0.7,"Mg":0.3,"Ca":0.5,"K":1.4,"EC":12,"NH":15,"SO":21,"NO":13,"OC":59},
{"t":"1/21 12","Cl":18,"N2":0.5,"Na":0.7,"Mg":0.3,"Ca":0.5,"K":1.4,"EC":13,"NH":15,"SO":21,"NO":13,"OC":57},
{"t":"1/21 15","Cl":3,"N2":0.2,"Na":0.4,"Mg":0.2,"Ca":0.3,"K":0.4,"EC":1,"NH":0.5,"SO":1,"NO":2,"OC":6},
{"t":"1/21 18","Cl":3,"N2":0.2,"Na":0.4,"Mg":0.2,"Ca":0.3,"K":0.4,"EC":1,"NH":0.5,"SO":1,"NO":2,"OC":5},
{"t":"1/21 21","Cl":2,"N2":0.2,"Na":0.4,"Mg":0.2,"Ca":0.3,"K":0.4,"EC":1,"NH":0.5,"SO":1,"NO":2,"OC":7},
{"t":"1/22 00","Cl":2,"N2":0.2,"Na":0.4,"Mg":0.2,"Ca":0.3,"K":0.4,"EC":1,"NH":0.5,"SO":1,"NO":2,"OC":7},
{"t":"1/22 03","Cl":2,"N2":0.2,"Na":0.4,"Mg":0.2,"Ca":0.3,"K":0.4,"EC":1,"NH":0.5,"SO":1,"NO":2,"OC":7},
{"t":"1/22 06","Cl":2,"N2":0.2,"Na":0.4,"Mg":0.2,"Ca":0.3,"K":0.4,"EC":1,"NH":0.5,"SO":1,"NO":2,"OC":7.5},
{"t":"1/22 09","Cl":2,"N2":0.2,"Na":0.4,"Mg":0.2,"Ca":0.3,"K":0.4,"EC":1,"NH":0.5,"SO":1,"NO":2,"OC":8},
{"t":"1/22 12","Cl":2,"N2":0.2,"Na":0.4,"Mg":0.2,"Ca":0.3,"K":0.4,"EC":1,"NH":0.5,"SO":1,"NO":2,"OC":8.5},
{"t":"1/22 15","Cl":2,"N2":0.2,"Na":0.4,"Mg":0.2,"Ca":0.3,"K":0.4,"EC":1,"NH":0.5,"SO":1,"NO":2,"OC":9},
{"t":"1/22 18","Cl":2,"N2":0.2,"Na":0.4,"Mg":0.2,"Ca":0.3,"K":0.4,"EC":1,"NH":0.5,"SO":1,"NO":2,"OC":9.5},
{"t":"1/22 21","Cl":2,"N2":0.2,"Na":0.4,"Mg":0.2,"Ca":0.3,"K":0.4,"EC":1,"NH":0.5,"SO":1,"NO":2,"OC":10}
]},
"transform":[
{"fold":["Cl","N2","Na","Mg","Ca","K","EC","NH","SO","NO","OC"],"as":["k","v"]},
{"lookup":"k","from":{"data":{"values":[{"k":"Cl","n":"Cl⁻","i":0},{"k":"N2","n":"NO₂⁻","i":1},{"k":"Na","n":"Na⁺","i":2},{"k":"Mg","n":"Mg²⁺","i":3},{"k":"Ca","n":"Ca²⁺","i":4},{"k":"K","n":"K⁺","i":5},{"k":"EC","n":"EC","i":6},{"k":"NH","n":"NH₄⁺","i":7},{"k":"SO","n":"SO₄²⁻","i":8},{"k":"NO","n":"NO₃⁻","i":9},{"k":"OC","n":"OC","i":10}]},"key":"k","fields":["n","i"]}}
],
"mark":{"type":"area","interpolate":"linear"},
"encoding":{
"x":{"field":"t","type":"temporal","scale":{"domain":[{"year":1900,"month":1,"date":7},{"year":1900,"month":1,"date":23}]},"axis":{"values":[{"year":1900,"month":1,"date":7},{"year":1900,"month":1,"date":10},{"year":1900,"month":1,"date":13},{"year":1900,"month":1,"date":16},{"year":1900,"month":1,"date":19},{"year":1900,"month":1,"date":22}],"format":"%-m/%-d","title":null,"tickSize":6,"labelPadding":2,"labelFlush":false}},
"y":{"field":"v","type":"quantitative","stack":"zero","scale":{"domain":[0,250],"nice":false},"axis":{"values":[0,50,100,150,200,250],"labelOverlap":false,"title":"μg m⁻³","titleAngle":0,"titleX":-67,"titleY":22,"titleAlign":"left","titleBaseline":"middle","titleFontSize":15,"tickSize":7,"labelPadding":5}},
"color":{"field":"n","type":"nominal","scale":{"domain":["Cl⁻","NO₂⁻","Na⁺","Mg²⁺","Ca²⁺","K⁺","EC","NH₄⁺","SO₄²⁻","NO₃⁻","OC"],"range":["#ff0000","#000000","#800000","#c0c0c0","#ff8000","#8000ff","#008000","#ffff00","#00ffff","#0099ff","#000099"]},"legend":{"orient":"none","legendX":911,"legendY":-35,"title":null,"symbolType":"M-1,-0.5H1V0.5H-1Z","symbolSize":2704,"symbolStrokeWidth":0,"clipHeight":33,"rowPadding":0.3}},
"order":{"field":"i","type":"quantitative"}}},
{"data":{"format":{"parse":{"s":"date:'%m/%d %H:%M'","e":"date:'%m/%d %H:%M'","m":"date:'%m/%d %H:%M'"}},"values":[{"c":"Case 1","s":"1/7 21:45","e":"1/10 12:15","m":"1/9 05:00"},{"c":"Case 2","s":"1/13 14:30","e":"1/16 18:30","m":"1/15 04:30"},{"c":"Case 3","s":"1/18 13:15","e":"1/21 17:30","m":"1/20 03:20"}]},
"layer":[
{"mark":{"type":"rect","fill":"#c0c0c0","stroke":"#404040","strokeWidth":1.5},
"encoding":{"x":{"field":"s","type":"temporal"},"x2":{"field":"e"},"y":{"datum":254,"type":"quantitative","scale":{"domain":[0,250],"nice":false},"axis":null},"y2":{"datum":221.6}}},
{"mark":{"type":"text","fontSize":21,"align":"center","baseline":"middle","color":"#111"},
"encoding":{"x":{"field":"m","type":"temporal"},"y":{"datum":237.5,"type":"quantitative","axis":null},"text":{"field":"c"}}},
{"mark":{"type":"rule","strokeDash":[5,4],"strokeWidth":1.2},
"encoding":{"x":{"field":"s","type":"temporal"},"y":{"datum":221.6,"type":"quantitative","axis":null},"y2":{"datum":0},"color":{"condition":{"test":"datum.c === 'Case 3'","value":"#808080"},"value":"#222222"}}},
{"mark":{"type":"rule","strokeDash":[5,4],"strokeWidth":1.2},
"encoding":{"x":{"field":"e","type":"temporal"},"y":{"datum":221.6,"type":"quantitative","axis":null},"y2":{"datum":0},"color":{"condition":{"test":"datum.c !== 'Case 1'","value":"#808080"},"value":"#222222"}}}
]}
],
"resolve":{"scale":{"y":"independent"}}},
{"width":863,"height":192,
"layer":[
{"mark":{"type":"line","strokeWidth":1,"invalid":"filter","point":{"filled":true,"size":18}},
"encoding":{"x":{"field":"t","type":"temporal","scale":{"domain":[{"year":1900,"month":1,"date":7},{"year":1900,"month":1,"date":23}]},"axis":{"values":[{"year":1900,"month":1,"date":7},{"year":1900,"month":1,"date":10},{"year":1900,"month":1,"date":13},{"year":1900,"month":1,"date":16},{"year":1900,"month":1,"date":19},{"year":1900,"month":1,"date":22}],"format":"%-m/%-d","title":null,"tickSize":6,"labelPadding":2,"labelFlush":false}},
"y":{"field":"N","type":"quantitative","scale":{"domain":[0,120],"nice":false},"axis":{"values":[0,30,60,90,120],"title":"ppb","titleAngle":0,"titleX":-44,"titleY":21,"titleAlign":"center","titleBaseline":"middle","titleFontSize":15,"tickSize":7,"labelPadding":4}},
"color":{"datum":"NO₂","type":"nominal","scale":{"domain":["NO₂","SO₂"],"range":["#000000","#ff0000"]},"legend":{"orient":"none","legendX":911,"legendY":118,"title":null,"symbolType":"M-1,0H1M-0.08,0A0.08,0.08,0,1,1,0.08,0A0.08,0.08,0,1,1,-0.08,0M-0.035,0A0.035,0.035,0,1,1,0.035,0A0.035,0.035,0,1,1,-0.035,0","symbolSize":2704,"symbolStrokeWidth":1.2,"clipHeight":24,"labelFontSize":21}}}},
{"mark":{"type":"line","strokeWidth":1,"invalid":"filter","point":{"filled":true,"size":18}},
"encoding":{"x":{"field":"t","type":"temporal"},
"y":{"field":"S","type":"quantitative","scale":{"domain":[0,40],"nice":false},"axis":{"orient":"right","values":[0,10,20,30,40],"title":"ppb","titleAngle":0,"titleX":27,"titleY":22,"titleAlign":"center","titleBaseline":"middle","titleFontSize":15,"titleColor":"#e00000","labelColor":"#e00000","domainColor":"#ff2020","tickColor":"#ff2020","tickSize":5,"labelPadding":2}},
"color":{"datum":"SO₂","type":"nominal"}}},
{"data":{"format":{"parse":{"s":"date:'%m/%d %H:%M'","e":"date:'%m/%d %H:%M'"}},"values":[{"c":"Case 1","s":"1/7 21:45","e":"1/10 12:15","p":2},{"c":"Case 2","s":"1/13 14:30","e":"1/16 18:30","p":2},{"c":"Case 3","s":"1/18 13:15","e":"1/21 17:30","p":2}]},
"layer":[
{"mark":{"type":"rule","strokeDash":[5,4],"strokeWidth":1.2},"encoding":{"x":{"field":"s","type":"temporal"},"y":{"datum":0,"type":"quantitative","scale":{"domain":[0,120],"nice":false},"axis":null},"y2":{"datum":138.1},"color":{"condition":{"test":"datum.c === 'Case 3'","value":"#808080"},"value":"#222222"}}},
{"mark":{"type":"rule","strokeDash":[5,4],"strokeWidth":1.2},"encoding":{"x":{"field":"e","type":"temporal"},"y":{"datum":0,"type":"quantitative","axis":null},"y2":{"datum":138.1},"color":{"condition":{"test":"datum.c !== 'Case 1'","value":"#808080"},"value":"#222222"}}}
]}
],
"resolve":{"scale":{"y":"independent"}}},
{"width":863,"height":193,
"layer":[
{"transform":[{"filter":"isDefined(datum.H)"}],
"mark":{"type":"line","strokeWidth":1,"invalid":"break-paths-filter-domains","point":{"filled":true,"size":18}},
"encoding":{"x":{"field":"t","type":"temporal","scale":{"domain":[{"year":1900,"month":1,"date":7},{"year":1900,"month":1,"date":23}]},"axis":{"values":[{"year":1900,"month":1,"date":7},{"year":1900,"month":1,"date":10},{"year":1900,"month":1,"date":13},{"year":1900,"month":1,"date":16},{"year":1900,"month":1,"date":19},{"year":1900,"month":1,"date":22}],"format":"%-m/%-d","title":null,"tickSize":6,"labelPadding":2,"labelFlush":false}},
"y":{"field":"H","type":"quantitative","scale":{"domain":[0,5],"nice":false},"axis":{"values":[0,1,2,3,4,5],"title":"ppb","titleAngle":0,"titleX":-39,"titleY":19,"titleAlign":"center","titleBaseline":"middle","titleFontSize":15,"titleColor":"#3a3acc","labelColor":"#3a3acc","domainColor":"#6464dc","tickColor":"#6464dc","tickSize":7,"labelPadding":6}},
"color":{"datum":"HONO","type":"nominal","scale":{"domain":["HONO","H₂O₂"],"range":["#0a0af0","#f0207a"]},"legend":{"orient":"none","legendX":911,"legendY":44,"title":null,"symbolType":"M-1,0H1M-0.08,0A0.08,0.08,0,1,1,0.08,0A0.08,0.08,0,1,1,-0.08,0M-0.035,0A0.035,0.035,0,1,1,0.035,0A0.035,0.035,0,1,1,-0.035,0","symbolSize":2704,"symbolStrokeWidth":1.2,"clipHeight":28,"labelFontSize":19}}}},
{"mark":{"type":"line","strokeWidth":1,"invalid":"filter","point":{"filled":true,"size":18}},
"encoding":{"x":{"field":"t","type":"temporal"},
"y":{"field":"P","type":"quantitative","scale":{"domain":[0,1],"nice":false},"axis":{"orient":"right","values":[0,0.2,0.4,0.6,0.8,1],"format":".1f","title":"ppb","titleAngle":0,"titleX":31,"titleY":24,"titleAlign":"center","titleBaseline":"middle","titleFontSize":14,"titleColor":"#e0306e","labelColor":"#e0306e","domainColor":"#ec5590","tickColor":"#ec5590","tickSize":5,"labelPadding":3}},
"color":{"datum":"H₂O₂","type":"nominal"}}},
{"data":{"format":{"parse":{"s":"date:'%m/%d %H:%M'","e":"date:'%m/%d %H:%M'"}},"values":[{"c":"Case 1","s":"1/7 21:45","e":"1/10 12:15","p":3},{"c":"Case 2","s":"1/13 14:30","e":"1/16 18:30","p":3},{"c":"Case 3","s":"1/18 13:15","e":"1/21 17:30","p":3}]},
"layer":[
{"mark":{"type":"rule","strokeDash":[5,4],"strokeWidth":1.2},"encoding":{"x":{"field":"s","type":"temporal"},"y":{"datum":0,"type":"quantitative","scale":{"domain":[0,5],"nice":false},"axis":null},"y2":{"datum":5.75},"color":{"condition":{"test":"datum.c === 'Case 3'","value":"#808080"},"value":"#222222"}}},
{"mark":{"type":"rule","strokeDash":[5,4],"strokeWidth":1.2},"encoding":{"x":{"field":"e","type":"temporal"},"y":{"datum":0,"type":"quantitative","axis":null},"y2":{"datum":5.75},"color":{"condition":{"test":"datum.c !== 'Case 1'","value":"#808080"},"value":"#222222"}}}
]}
],
"resolve":{"scale":{"y":"independent"}}},
{"width":863,"height":193,
"layer":[
{"mark":{"type":"line","strokeWidth":1,"invalid":"filter","point":{"filled":true,"size":18}},
"encoding":{"x":{"field":"t","type":"temporal","scale":{"domain":[{"year":1900,"month":1,"date":7},{"year":1900,"month":1,"date":23}]},"axis":{"values":[{"year":1900,"month":1,"date":7},{"year":1900,"month":1,"date":10},{"year":1900,"month":1,"date":13},{"year":1900,"month":1,"date":16},{"year":1900,"month":1,"date":19},{"year":1900,"month":1,"date":22}],"format":"%-m/%-d","title":"Date","titleX":857,"titleY":33,"titleAlign":"center","titleBaseline":"middle","titleFontSize":21,"tickSize":6,"labelPadding":2,"labelFlush":false}},
"y":{"field":"O","type":"quantitative","scale":{"domain":[0,40],"nice":false},"axis":{"values":[0,10,20,30,40],"title":"ppb","titleAngle":0,"titleX":-38,"titleY":25,"titleAlign":"center","titleBaseline":"middle","titleFontSize":15,"titleColor":"#f0a060","labelColor":"#f0a060","domainColor":"#f5a545","tickColor":"#f5a545","tickSize":7,"labelPadding":6}},
"color":{"datum":"O₃","type":"nominal","scale":{"domain":["O₃","RH"],"range":["#f39020","#208c20"]},"legend":{"orient":"none","legendX":911,"legendY":39,"title":null,"symbolType":"M-1,0H1M-0.08,0A0.08,0.08,0,1,1,0.08,0A0.08,0.08,0,1,1,-0.08,0M-0.035,0A0.035,0.035,0,1,1,0.035,0A0.035,0.035,0,1,1,-0.035,0","symbolSize":2704,"symbolStrokeWidth":1.2,"clipHeight":26,"labelFontSize":21}}}},
{"mark":{"type":"line","strokeWidth":1,"invalid":"filter","point":{"filled":true,"size":18}},
"encoding":{"x":{"field":"t","type":"temporal"},
"y":{"field":"R","type":"quantitative","scale":{"domain":[0,100],"nice":false},"axis":{"orient":"right","values":[0,20,40,60,80,100],"title":"%","titleAngle":0,"titleX":12,"titleY":23,"titleAlign":"center","titleBaseline":"middle","titleFontSize":15,"titleColor":"#2e962e","labelColor":"#2e962e","domainColor":"#3a9a3a","tickColor":"#3a9a3a","tickSize":5,"labelPadding":3}},
"color":{"datum":"RH","type":"nominal"}}},
{"data":{"format":{"parse":{"s":"date:'%m/%d %H:%M'","e":"date:'%m/%d %H:%M'"}},"values":[{"c":"Case 1","s":"1/7 21:45","e":"1/10 12:15","p":4},{"c":"Case 2","s":"1/13 14:30","e":"1/16 18:30","p":4},{"c":"Case 3","s":"1/18 13:15","e":"1/21 17:30","p":4}]},
"layer":[
{"mark":{"type":"rule","strokeDash":[5,4],"strokeWidth":1.2},"encoding":{"x":{"field":"s","type":"temporal"},"y":{"datum":0,"type":"quantitative","scale":{"domain":[0,40],"nice":false},"axis":null},"y2":{"datum":46},"color":{"condition":{"test":"datum.c === 'Case 3'","value":"#808080"},"value":"#222222"}}},
{"mark":{"type":"rule","strokeDash":[5,4],"strokeWidth":1.2},"encoding":{"x":{"field":"e","type":"temporal"},"y":{"datum":0,"type":"quantitative","axis":null},"y2":{"datum":46},"color":{"condition":{"test":"datum.c !== 'Case 1'","value":"#808080"},"value":"#222222"}}}
]}
],
"resolve":{"scale":{"y":"independent"}}}
]
}
